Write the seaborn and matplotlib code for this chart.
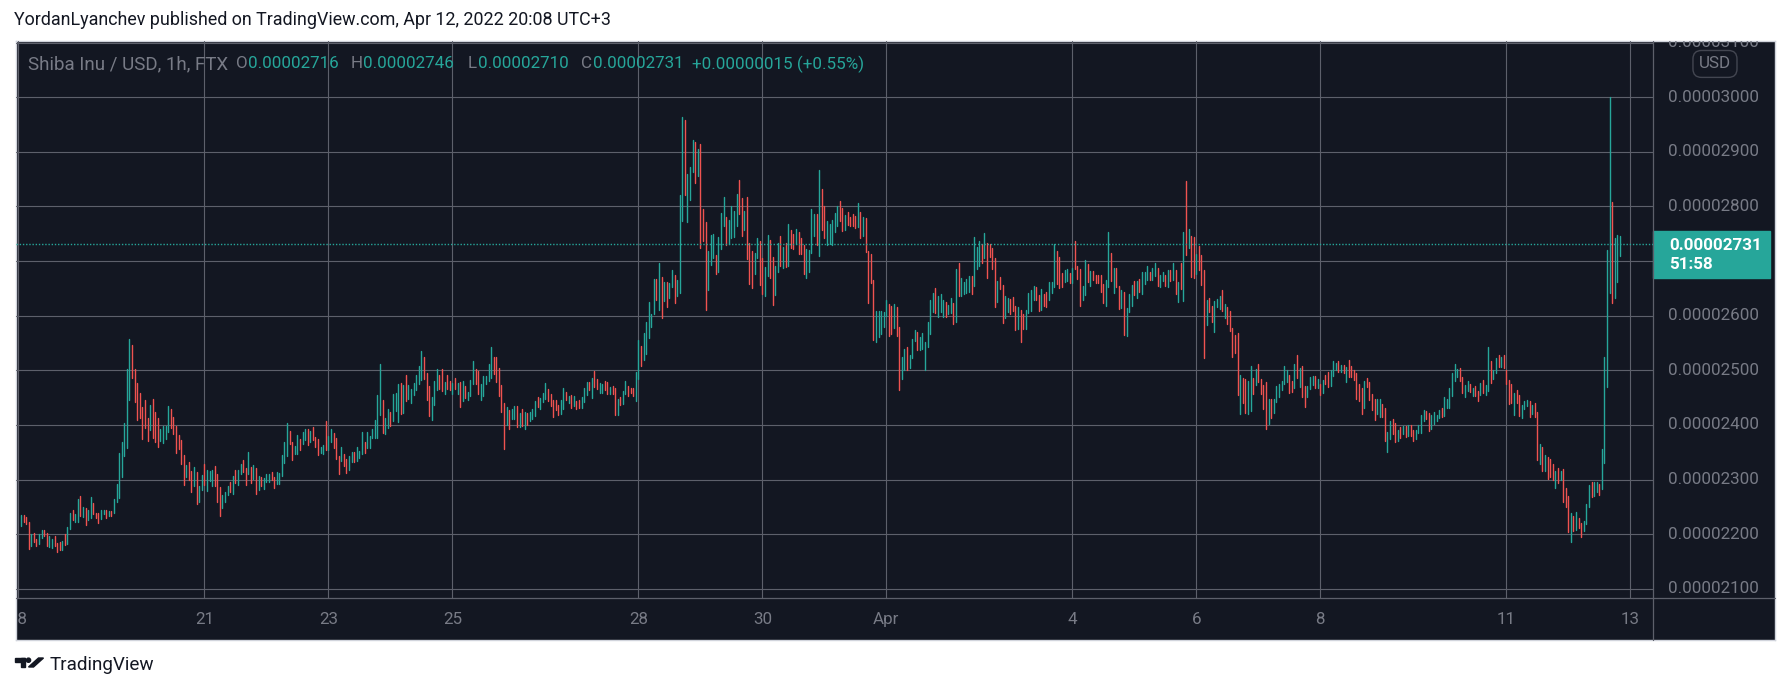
import matplotlib
matplotlib.use("Agg")
import matplotlib.pyplot as plt
from matplotlib.patches import Rectangle, Polygon, Circle
from matplotlib.transforms import Affine2D, blended_transform_factory
from matplotlib.lines import Line2D
import numpy as np
import pandas as pd
import seaborn as sns


# Hourly SHIB/USD candles (FTX), prices in units of 1e-8 USD
lows = [
    2214, 2223, 2219, 2173, 2178, 2185, 2178, 2182, 2192, 2196,
    2178, 2177, 2174, 2178, 2168, 2170, 2170, 2180, 2182, 2210,
    2225, 2223, 2223, 2233, 2232, 2217, 2226, 2230, 2237, 2230,
    2221, 2228, 2237, 2230, 2233, 2233, 2239, 2259, 2266, 2305,
    2343, 2358, 2446, 2486, 2442, 2409, 2413, 2374, 2394, 2371,
    2391, 2376, 2369, 2360, 2371, 2367, 2374, 2387, 2394, 2383,
    2349, 2356, 2328, 2290, 2305, 2299, 2277, 2288, 2255, 2259,
    2281, 2290, 2279, 2297, 2288, 2288, 2259, 2233, 2248, 2259,
    2272, 2277, 2274, 2294, 2290, 2310, 2314, 2290, 2310, 2294,
    2301, 2274, 2281, 2288, 2283, 2296, 2296, 2299, 2285, 2292,
    2292, 2307, 2330, 2343, 2365, 2336, 2347, 2347, 2354, 2365,
    2372, 2363, 2369, 2372, 2360, 2345, 2349, 2347, 2354, 2354,
    2369, 2358, 2338, 2310, 2334, 2325, 2312, 2317, 2332, 2332,
    2334, 2339, 2347, 2349, 2358, 2358, 2376, 2376, 2376, 2418,
    2385, 2383, 2394, 2398, 2407, 2425, 2405, 2420, 2422, 2444,
    2447, 2440, 2455, 2464, 2475, 2482, 2484, 2446, 2416, 2409,
    2436, 2464, 2466, 2462, 2457, 2466, 2464, 2457, 2466, 2457,
    2433, 2444, 2450, 2446, 2453, 2475, 2475, 2457, 2446, 2452,
    2474, 2481, 2485, 2494, 2479, 2453, 2424, 2355, 2400, 2393,
    2410, 2411, 2397, 2397, 2398, 2393, 2400, 2408, 2411, 2417,
    2433, 2430, 2442, 2448, 2444, 2435, 2415, 2428, 2419, 2420,
    2430, 2446, 2441, 2431, 2435, 2430, 2431, 2431, 2442, 2455,
    2463, 2450, 2470, 2466, 2459, 2459, 2464, 2457, 2457, 2457,
    2419, 2419, 2437, 2439, 2457, 2453, 2459, 2453, 2444, 2484,
    2508, 2518, 2530, 2559, 2579, 2603, 2628, 2610, 2596, 2627,
    2616, 2632, 2653, 2623, 2636, 2642, 2773, 2821, 2772, 2812,
    2863, 2843, 2856, 2724, 2737, 2610, 2647, 2693, 2706, 2676,
    2680, 2722, 2764, 2730, 2731, 2742, 2744, 2764, 2786, 2746,
    2757, 2704, 2658, 2651, 2676, 2706, 2656, 2640, 2636, 2673,
    2669, 2620, 2638, 2680, 2691, 2687, 2689, 2691, 2724, 2722,
    2731, 2713, 2713, 2676, 2669, 2680, 2715, 2746, 2730, 2709,
    2757, 2742, 2730, 2731, 2730, 2753, 2764, 2773, 2755, 2757,
    2766, 2764, 2764, 2761, 2762, 2742, 2746, 2717, 2623, 2660,
    2555, 2552, 2561, 2566, 2579, 2599, 2563, 2566, 2578, 2563,
    2464, 2484, 2501, 2501, 2504, 2523, 2554, 2537, 2537, 2539,
    2501, 2543, 2566, 2607, 2605, 2598, 2607, 2598, 2598, 2603,
    2605, 2585, 2588, 2636, 2636, 2640, 2642, 2643, 2640, 2654,
    2686, 2691, 2697, 2706, 2669, 2708, 2686, 2616, 2625, 2649,
    2587, 2596, 2607, 2603, 2609, 2574, 2576, 2552, 2576, 2576,
    2605, 2609, 2629, 2629, 2609, 2610, 2618, 2616, 2629, 2642,
    2653, 2658, 2651, 2653, 2662, 2664, 2660, 2660, 2686, 2667,
    2618, 2629, 2638, 2662, 2654, 2665, 2660, 2660, 2643, 2623,
    2618, 2653, 2664, 2642, 2653, 2612, 2614, 2565, 2563, 2607,
    2618, 2638, 2632, 2643, 2640, 2658, 2665, 2665, 2665, 2673,
    2654, 2653, 2664, 2654, 2653, 2664, 2665, 2640, 2625, 2649,
    2627, 2711, 2724, 2671, 2669, 2676, 2684, 2656, 2523, 2583,
    2607, 2588, 2570, 2616, 2612, 2609, 2596, 2585, 2572, 2524,
    2532, 2455, 2420, 2440, 2422, 2420, 2425, 2457, 2473, 2479,
    2457, 2429, 2393, 2402, 2413, 2422, 2442, 2451, 2464, 2475,
    2479, 2459, 2460, 2468, 2486, 2469, 2451, 2433, 2451, 2466,
    2473, 2468, 2468, 2455, 2459, 2475, 2469, 2471, 2490, 2501,
    2497, 2497, 2495, 2479, 2488, 2488, 2482, 2447, 2444, 2420,
    2431, 2469, 2446, 2427, 2409, 2420, 2414, 2414, 2371, 2350,
    2374, 2383, 2369, 2371, 2376, 2383, 2378, 2380, 2380, 2371,
    2374, 2385, 2385, 2407, 2411, 2389, 2393, 2402, 2407, 2413,
    2414, 2416, 2431, 2431, 2453, 2480, 2488, 2480, 2459, 2451,
    2462, 2460, 2453, 2453, 2444, 2455, 2459, 2455, 2462, 2477,
    2484, 2495, 2506, 2506, 2504, 2475, 2438, 2440, 2418, 2440,
    2416, 2413, 2429, 2435, 2414, 2420, 2414, 2336, 2328, 2316,
    2316, 2301, 2305, 2299, 2284, 2294, 2299, 2259, 2250, 2204,
    2186, 2206, 2208, 2211, 2195, 2206, 2218, 2250, 2268, 2270,
    2277, 2272, 2283, 2330, 2469, 2642, 2623, 2632, 2662, 2710,
]
highs = [
    2235, 2235, 2232, 2223, 2200, 2202, 2191, 2200, 2208, 2208,
    2202, 2197, 2191, 2197, 2183, 2186, 2188, 2200, 2213, 2239,
    2244, 2237, 2264, 2270, 2250, 2248, 2244, 2268, 2257, 2239,
    2239, 2244, 2244, 2244, 2242, 2242, 2264, 2292, 2349, 2369,
    2404, 2502, 2557, 2546, 2502, 2477, 2458, 2433, 2446, 2413,
    2436, 2447, 2424, 2413, 2393, 2398, 2398, 2435, 2429, 2414,
    2398, 2382, 2372, 2345, 2327, 2332, 2316, 2323, 2314, 2288,
    2308, 2328, 2317, 2316, 2317, 2325, 2310, 2286, 2272, 2277,
    2288, 2296, 2307, 2317, 2317, 2328, 2336, 2321, 2350, 2323,
    2327, 2321, 2307, 2305, 2303, 2310, 2310, 2314, 2305, 2314,
    2312, 2345, 2369, 2404, 2389, 2369, 2361, 2382, 2374, 2387,
    2393, 2393, 2389, 2396, 2378, 2374, 2360, 2363, 2407, 2380,
    2393, 2385, 2376, 2343, 2360, 2347, 2338, 2343, 2350, 2350,
    2360, 2352, 2387, 2369, 2387, 2380, 2393, 2409, 2455, 2511,
    2446, 2413, 2429, 2424, 2457, 2458, 2475, 2477, 2473, 2491,
    2473, 2466, 2477, 2491, 2508, 2535, 2524, 2495, 2471, 2451,
    2480, 2502, 2491, 2502, 2479, 2491, 2480, 2477, 2486, 2477,
    2479, 2480, 2471, 2460, 2482, 2517, 2502, 2499, 2475, 2489,
    2489, 2511, 2543, 2524, 2524, 2504, 2473, 2440, 2432, 2428,
    2430, 2434, 2434, 2421, 2430, 2423, 2421, 2423, 2430, 2444,
    2451, 2449, 2458, 2477, 2466, 2456, 2445, 2445, 2436, 2445,
    2467, 2460, 2453, 2455, 2453, 2444, 2445, 2451, 2467, 2478,
    2478, 2486, 2499, 2484, 2477, 2475, 2480, 2478, 2469, 2471,
    2467, 2447, 2451, 2462, 2480, 2471, 2467, 2467, 2497, 2555,
    2545, 2568, 2588, 2625, 2603, 2667, 2667, 2697, 2671, 2662,
    2662, 2660, 2684, 2675, 2665, 2821, 2964, 2958, 2860, 2872,
    2922, 2918, 2905, 2914, 2795, 2772, 2719, 2748, 2750, 2711,
    2744, 2788, 2817, 2781, 2775, 2801, 2792, 2823, 2849, 2816,
    2792, 2817, 2733, 2719, 2715, 2742, 2737, 2706, 2689, 2748,
    2739, 2708, 2691, 2733, 2746, 2726, 2733, 2768, 2757, 2750,
    2759, 2753, 2742, 2730, 2722, 2720, 2795, 2786, 2786, 2867,
    2832, 2801, 2773, 2768, 2775, 2788, 2801, 2810, 2797, 2784,
    2790, 2781, 2786, 2783, 2806, 2790, 2781, 2779, 2719, 2713,
    2665, 2609, 2609, 2609, 2607, 2629, 2621, 2618, 2621, 2616,
    2579, 2524, 2539, 2543, 2528, 2557, 2574, 2570, 2561, 2568,
    2552, 2588, 2629, 2642, 2651, 2636, 2640, 2629, 2625, 2620,
    2632, 2623, 2686, 2697, 2669, 2662, 2667, 2673, 2673, 2744,
    2726, 2737, 2731, 2752, 2733, 2731, 2724, 2706, 2664, 2671,
    2656, 2636, 2632, 2631, 2634, 2618, 2616, 2610, 2603, 2610,
    2642, 2647, 2654, 2653, 2638, 2649, 2640, 2643, 2662, 2662,
    2731, 2719, 2708, 2678, 2684, 2686, 2678, 2687, 2737, 2691,
    2686, 2654, 2702, 2695, 2682, 2682, 2675, 2675, 2675, 2658,
    2665, 2753, 2715, 2687, 2687, 2654, 2647, 2643, 2614, 2640,
    2656, 2664, 2664, 2667, 2680, 2680, 2691, 2680, 2687, 2697,
    2687, 2675, 2680, 2675, 2684, 2684, 2697, 2684, 2662, 2697,
    2753, 2847, 2759, 2746, 2744, 2713, 2728, 2711, 2684, 2629,
    2632, 2618, 2627, 2631, 2636, 2647, 2621, 2616, 2609, 2577,
    2565, 2568, 2491, 2486, 2484, 2480, 2508, 2486, 2502, 2512,
    2484, 2473, 2479, 2447, 2447, 2447, 2471, 2475, 2480, 2508,
    2501, 2491, 2480, 2512, 2528, 2504, 2508, 2471, 2471, 2488,
    2490, 2490, 2484, 2475, 2482, 2491, 2497, 2501, 2517, 2513,
    2517, 2510, 2510, 2506, 2519, 2508, 2501, 2495, 2475, 2468,
    2480, 2486, 2479, 2457, 2447, 2447, 2447, 2438, 2431, 2387,
    2407, 2411, 2404, 2391, 2396, 2398, 2398, 2400, 2400, 2391,
    2391, 2400, 2418, 2427, 2425, 2422, 2418, 2424, 2418, 2427,
    2431, 2451, 2447, 2468, 2495, 2512, 2502, 2504, 2488, 2473,
    2480, 2475, 2468, 2471, 2462, 2477, 2482, 2473, 2543, 2517,
    2501, 2523, 2528, 2524, 2528, 2501, 2482, 2475, 2458, 2464,
    2455, 2436, 2444, 2446, 2444, 2436, 2440, 2424, 2365, 2360,
    2345, 2341, 2338, 2328, 2316, 2321, 2316, 2319, 2284, 2270,
    2239, 2233, 2240, 2230, 2220, 2224, 2255, 2290, 2296, 2296,
    2296, 2292, 2356, 2524, 2720, 3000, 2808, 2742, 2748, 2746,
]
# u = close above open (teal), d = close below open (red)
sides = (
    "udddudduud" "duuddduduu" "duududuudd" "duududuuuu" "uuuddddddd"
    "uddduuuudd" "dddduddudu" "uduuuddduu" "ududuuddud" "ududuuuddu"
    "uuuudduudu" "ududdduudu" "udddudduud" "uuuduuuuuu" "duuduuudud"
    "uuuuuudddu" "uudduddudu" "duduuudduu" "uuudddddud" "uudududuuu"
    "duuudddddu" "udududduuu" "dudduuddud" "duduuddduu" "duuuuududu"
    "duuduuuduu" "ududdduuud" "uuuduuuudd" "uddduudduu" "dduudududd"
    "uddduuuudu" "dduuuuuddu" "ddddududdd" "duuuuuddud" "duuduuuduu"
    "uuuuduuudu" "ududuuuudu" "uududdddud" "duuddduddu" "uuuddudduu"
    "uddduududd" "duududdddd" "uududduduu" "ududuuuduu" "duudududud"
    "ududdudddu" "dduuududdd" "ddudduudud" "ddduduuuuu" "uddududduu"
    "udududduuu" "dududddddd" "udddduuddu" "uddudududd" "uuuudduuuu"
    "duuuuuuddu" "ududduduud" "uududdddud" "duuududdud" "udddududdd"
    "ududduuudu" "uduuuuduuu"
)
last_candle = "2022-04-12 20:00"
last_open, last_high, last_low, last_close = 2716, 2746, 2710, 2731
change, change_pct = 15, 0.55
countdown = "51:58"

price_ticks = [2100, 2200, 2300, 2400, 2500, 2600, 2700, 2800, 2900, 3000, 3100]
day_ticks = ["2022-03-18", "2022-03-21", "2022-03-23", "2022-03-25", "2022-03-28",
             "2022-03-30", "2022-04-01", "2022-04-04", "2022-04-06", "2022-04-08",
             "2022-04-11", "2022-04-13"]
day_labels = ["18", "21", "23", "25", "28", "30", "Apr", "4", "6", "8", "11", "13"]

BG = "#131722"
UP = "#26a69a"
DOWN = "#ef5350"
GRID = "#5d606b"
TXT = "#787b86"
DARK = "#131722"

sns.set_theme(style="dark")
plt.rcParams["font.family"] = ["Roboto", "DejaVu Sans"]

W, H = 1791, 693
fig = plt.figure(figsize=(W / 100, H / 100), dpi=100, facecolor="white")
px = Affine2D().scale(1 / W, -1 / H).translate(0, 1) + fig.transFigure


def px_axes(x0, y0, x1, y1):
    return fig.add_axes([x0 / W, 1 - y1 / H, (x1 - x0) / W, (y1 - y0) / H])


def fit_text(txt, width_px):
    bb = txt.get_window_extent(renderer=fig.canvas.get_renderer())
    txt.set_fontsize(txt.get_fontsize() * width_px / bb.width)
    return txt.get_fontsize()


# dark chart panel
panel = px_axes(16, 41, 1775, 640)
panel.set_facecolor(BG)
panel.set_xticks([])
panel.set_yticks([])
for s in panel.spines.values():
    s.set_color("#d1d4dc")
    s.set_linewidth(1)

# candles as vertical low-high segments
assert len(lows) == len(highs) == len(sides)
n = len(lows)
t0 = pd.Timestamp("2022-03-18")
times = pd.date_range(end=last_candle, periods=n, freq="h")
hours = ((times - t0) / pd.Timedelta(hours=1)).to_numpy()
df = pd.DataFrame({
    "hour": np.repeat(hours, 2),
    "price": np.column_stack([lows, highs]).ravel(),
    "candle": np.repeat(np.arange(n), 2),
    "side": np.repeat(list(sides), 2),
})

ax = px_axes(16, 41, 1653, 598)
ax.set_facecolor("none")
sns.lineplot(data=df, x="hour", y="price", units="candle", estimator=None,
             hue="side", palette={"u": UP, "d": DOWN}, legend=False,
             sort=False, linewidth=1.0, ax=ax)
day_hours = [(pd.Timestamp(d) - t0) / pd.Timedelta(hours=1) for d in day_ticks]
ax.set_xlim(-0.93, 632.8)
ax.set_ylim(2083, 3103)
ax.set_xticks(day_hours)
ax.set_yticks(price_ticks)
ax.grid(True, color=GRID, linewidth=0.8)
ax.tick_params(length=0, labelbottom=False, labelleft=False)
ax.set_xlabel("")
ax.set_ylabel("")
for s in ax.spines.values():
    s.set_visible(False)
ax.axhline(last_close, color=UP, linewidth=1.0, linestyle=(0, (1, 1.3)))

# price scale
pax = px_axes(1653, 41, 1775, 598)
pax.set_facecolor("none")
pax.set_ylim(ax.get_ylim())
pax.set_xlim(0, 1)
pax.set_xticks([])
pax.set_yticks([])
for s in pax.spines.values():
    s.set_visible(False)

box_lo, box_hi = 2669, 2755
label_size = None
for v in price_ticks:
    t = pax.text(15 / 122, v, f"{v / 1e8:.8f}", ha="left", va="center",
                 color=TXT, fontsize=11, clip_on=True)
    if label_size is None:
        label_size = fit_text(t, 91)
    t.set_fontsize(label_size)
    if box_lo < v < box_hi:
        t.remove()  # hidden under the last price tag

pax.text(0.508, 3061, "USD", ha="center", va="center", color=TXT,
         fontsize=label_size,
         bbox=dict(boxstyle="round,pad=0.35,rounding_size=0.5", fc=BG,
                   ec="#434651", lw=1))

blend = blended_transform_factory(pax.transAxes, pax.transData)
pax.add_patch(Rectangle((0, box_lo), 117 / 122, box_hi - box_lo, transform=blend,
                        color=UP, zorder=5, clip_on=False))
pax.text(16 / 122, 2729, f"{last_close / 1e8:.8f}", ha="left", va="center",
         color="white", fontsize=label_size, fontweight="bold", zorder=6)
pax.text(16 / 122, 2693, countdown, ha="left", va="center",
         color="white", fontsize=label_size, fontweight="bold", zorder=6)

# time scale
tax = px_axes(16, 598, 1653, 640)
tax.set_facecolor("none")
tax.set_xlim(ax.get_xlim())
tax.set_ylim(0, 1)
tax.set_xticks([])
tax.set_yticks([])
for s in tax.spines.values():
    s.set_visible(False)
for h, lab in zip(day_hours, day_labels):
    tax.text(h, 0.48, lab, ha="center", va="center", color=TXT,
             fontsize=label_size, clip_on=True)

# separators between plot and scales
fig.add_artist(Line2D([1653, 1653], [41, 640], transform=px, color=GRID, lw=0.9))
fig.add_artist(Line2D([16, 1775], [598, 598], transform=px, color=GRID, lw=0.9))

# legend line
legend_y = 64
t = fig.text(27.5, legend_y, "Shiba Inu / USD, 1h, FTX", transform=px,
             color=TXT, va="center", ha="left", fontsize=label_size)
fit_text(t, 200)
for letter, lx, val, vx in [("O", 236, last_open, 248), ("H", 351, last_high, 363),
                            ("L", 468, last_low, 478), ("C", 581, last_close, 593)]:
    fig.text(lx, legend_y, letter, transform=px, color=TXT, va="center",
             ha="left", fontsize=label_size)
    fig.text(vx, legend_y, f"{val / 1e8:.8f}", transform=px, color=UP,
             va="center", ha="left", fontsize=label_size)
fig.text(692, legend_y, f"+{change / 1e8:.8f} (+{change_pct:.2f}%)", transform=px,
         color=UP, va="center", ha="left", fontsize=label_size)

# header and footer
t = fig.text(14, 20, "YordanLyanchev published on TradingView.com, Apr 12, 2022 20:08 UTC+3",
             transform=px, color=DARK, va="center", ha="left", fontsize=12)
fit_text(t, 594)

fig.add_artist(Rectangle((15, 658), 10, 4.2, transform=px, color=DARK))
fig.add_artist(Rectangle((20.5, 658), 4.5, 9, transform=px, color=DARK))
fig.add_artist(Circle((28.5, 660.2), 2.1, transform=px, color=DARK))
fig.add_artist(Polygon([(28.5, 667), (33.5, 667), (43.5, 658), (38.5, 658)],
                       closed=True, transform=px, color=DARK))
t = fig.text(50, 665, "TradingView", transform=px, color=DARK, va="center",
             ha="left", fontsize=13)
fit_text(t, 105)

fig.savefig("out.png", dpi=100, facecolor="white")
